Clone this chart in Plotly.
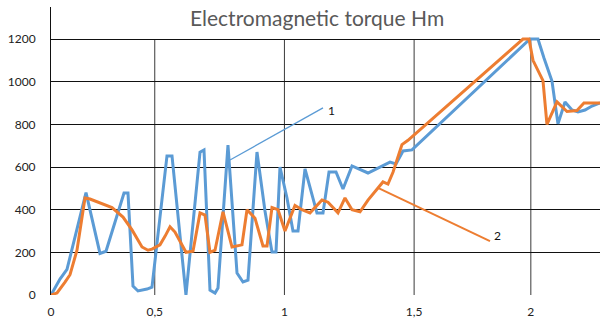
import plotly.graph_objects as go

# Category positions (sample index along the Excel category axis)
blue_x = [0.0, 2.08, 3.70, 8.10, 11.33, 12.72, 16.89, 17.81, 18.97, 20.12, 22.21, 23.36,
          26.83, 27.99, 31.22, 34.47, 35.39, 36.78, 37.94, 38.63, 40.94, 43.03, 44.41, 45.57,
          47.65, 49.50, 51.12, 52.05, 52.97, 54.59, 55.98, 57.14, 58.76, 61.53, 62.92, 64.31,
          65.93, 67.55, 69.63, 73.33, 78.42, 79.81, 81.43, 83.51, 110.80, 112.65, 114.04,
          115.89, 117.28, 118.90, 120.52, 121.91, 123.53, 125.15, 127.0]
blue_y = [0, 75, 120, 480, 195, 205, 478, 478, 42, 19, 28, 37,
          652, 652, 0, 670, 680, 23, 9, 33, 703, 103, 61, 70,
          670, 394, 202, 202, 600, 455, 300, 300, 591, 384, 384, 577,
          577, 497, 605, 572, 623, 614, 675, 680, 1200, 1200, 1111,
          1003, 802, 905, 867, 858, 867, 886, 900]

orange_x = [0.0, 1.39, 3.24, 4.40, 6.01, 7.86, 9.02, 14.11, 16.66, 18.74, 21.05, 22.44,
            23.36, 25.21, 26.37, 27.53, 28.68, 31.23, 32.85, 34.47, 35.62, 36.78, 37.94,
            39.79, 41.87, 44.18, 45.34, 47.19, 49.04, 49.97, 51.12, 52.51, 54.13, 56.44,
            58.06, 59.91, 62.69, 64.08, 66.39, 68.01, 69.63, 71.48, 73.33, 75.41, 76.80,
            77.95, 79.11, 81.19, 82.58, 109.18, 110.57, 111.50, 113.81, 114.73, 117.05,
            119.36, 121.67, 123.29, 127.0]
orange_y = [0, 10, 60, 95, 210, 455, 450, 410, 365, 305, 225, 210,
            215, 235, 275, 320, 295, 200, 205, 385, 375, 200, 210,
            390, 225, 235, 400, 360, 230, 230, 410, 400, 300, 420,
            400, 385, 445, 435, 385, 455, 400, 390, 445, 495, 530,
            520, 575, 705, 725, 1200, 1200, 1100, 1005, 800, 905,
            860, 865, 900, 900]

tick_pos = [0, 24, 54, 84, 111]
tick_text = ["0", "0,5", "1", "1,5", "2"]
y_ticks = [0, 200, 400, 600, 800, 1000, 1200]

BLUE = "#5B9BD5"
ORANGE = "#ED7D31"
FONT = "Lato, 'Open Sans', sans-serif"

fig = go.Figure()
fig.add_trace(go.Scatter(x=blue_x, y=blue_y, mode="lines",
                         line=dict(color=BLUE, width=3), showlegend=False))
fig.add_trace(go.Scatter(x=orange_x, y=orange_y, mode="lines",
                         line=dict(color=ORANGE, width=3), showlegend=False))

# vertical gridlines only spanning 0..1200
for tp in tick_pos[1:]:
    fig.add_shape(type="line", x0=tp, x1=tp, y0=0, y1=1200, xref="x", yref="y",
                  line=dict(color="#3a3a3a", width=1), layer="below")

# leader lines
fig.add_shape(type="line", x0=41.41, y0=633, x1=62.92, y1=877, xref="x", yref="y",
              line=dict(color=BLUE, width=1.3))
fig.add_shape(type="line", x0=75.64, y0=502, x1=101.55, y1=253, xref="x", yref="y",
              line=dict(color=ORANGE, width=2))
fig.add_annotation(x=65.0, y=867, text="1", showarrow=False, xref="x", yref="y",
                   font=dict(family=FONT, size=12, color="#111"))
fig.add_annotation(x=103.2, y=277, text="2", showarrow=False, xref="x", yref="y",
                   font=dict(family=FONT, size=12, color="#111"))

fig.add_annotation(x=0.4845, y=0.965, xref="paper", yref="paper",
                   xanchor="center", yanchor="middle",
                   text="Electromagnetic torque Hm", showarrow=False,
                   font=dict(family=FONT, size=21, color="#595959"))

fig.update_layout(
    width=600, height=322,
    margin=dict(l=51, r=0, t=7, b=27),
    paper_bgcolor="white", plot_bgcolor="white",
    font=dict(family=FONT, size=12, color="#222"),
    xaxis=dict(range=[0, 127], tickvals=tick_pos, ticktext=tick_text,
               showgrid=False, zeroline=False, showline=False, ticks="",
               ticklabelstandoff=8, fixedrange=True),
    yaxis=dict(range=[0, 1350], tickvals=y_ticks, showgrid=True,
               gridcolor="#111", gridwidth=1, zeroline=False,
               showline=True, linecolor="#111", linewidth=1, ticks="",
               ticklabelstandoff=12, fixedrange=True),
)

fig.write_html("out.html")
